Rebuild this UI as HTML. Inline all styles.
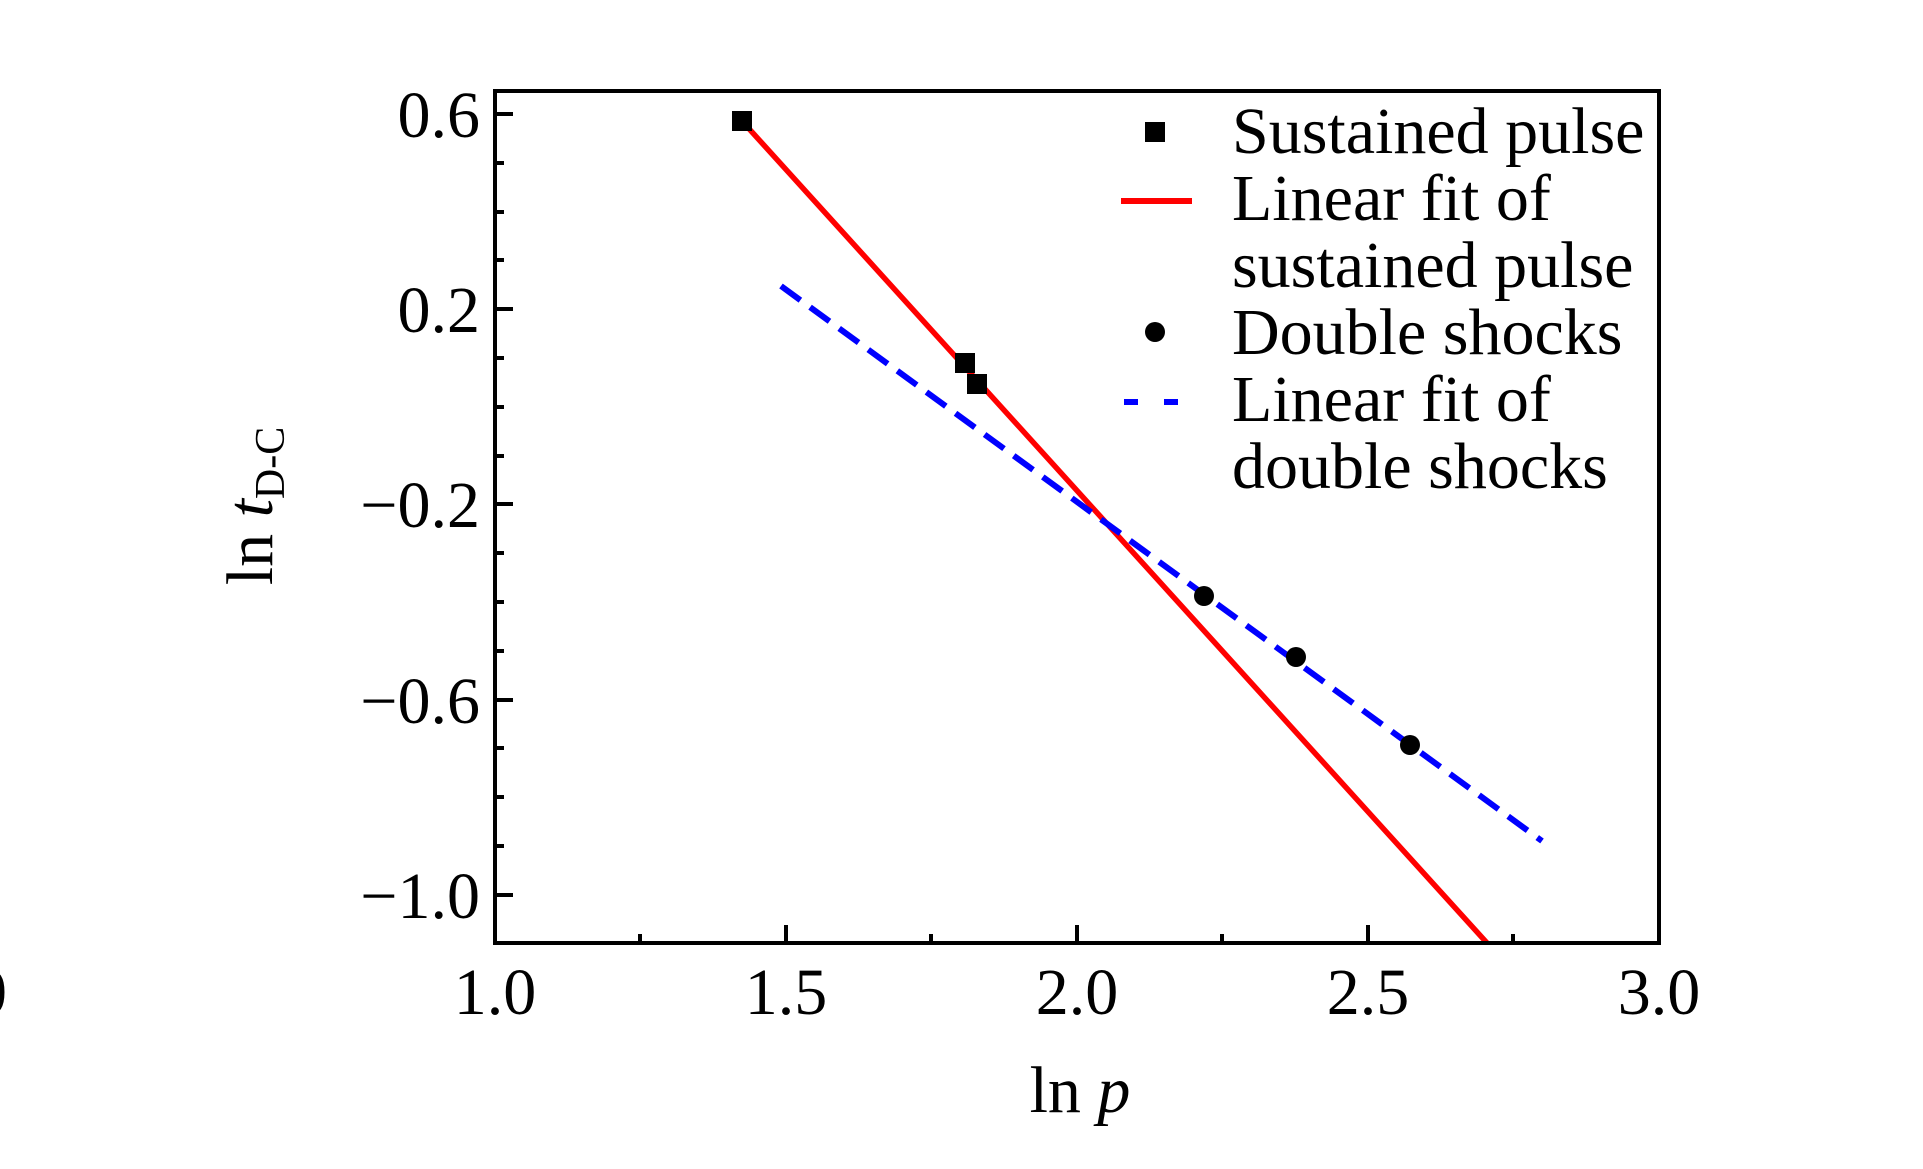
<!DOCTYPE html>
<html><head><meta charset="utf-8"><style>html,body{margin:0;padding:0;background:#fff;}svg{display:block}</style></head>
<body>
<svg width="1923" height="1169" viewBox="0 0 1923 1169" xmlns="http://www.w3.org/2000/svg" font-family="'Liberation Serif', serif">
<defs><clipPath id="c"><rect x="495" y="91" width="1164" height="852"/></clipPath></defs>
<g clip-path="url(#c)">
<line x1="742" y1="121" x2="1487" y2="943" stroke="#ff0000" stroke-width="5.5"/>
<line x1="781" y1="286" x2="1542" y2="841" stroke="#0000ff" stroke-width="6" stroke-dasharray="24 12"/>
</g>
<g fill="#000">
<rect x="732" y="111" width="20" height="20"/>
<rect x="955" y="353" width="20" height="20"/>
<rect x="967" y="374" width="20" height="20"/>
<circle cx="1204" cy="596" r="10"/>
<circle cx="1296" cy="657" r="10"/>
<circle cx="1410" cy="745" r="10"/>
</g>
<rect x="495" y="91" width="1164" height="852" fill="none" stroke="#000" stroke-width="4"/>
<g stroke="#000" stroke-width="4">
<line x1="495" y1="114" x2="513" y2="114"/>
<line x1="495" y1="163" x2="504" y2="163"/>
<line x1="495" y1="212" x2="504" y2="212"/>
<line x1="495" y1="260" x2="504" y2="260"/>
<line x1="495" y1="309" x2="513" y2="309"/>
<line x1="495" y1="358" x2="504" y2="358"/>
<line x1="495" y1="407" x2="504" y2="407"/>
<line x1="495" y1="456" x2="504" y2="456"/>
<line x1="495" y1="504" x2="513" y2="504"/>
<line x1="495" y1="553" x2="504" y2="553"/>
<line x1="495" y1="602" x2="504" y2="602"/>
<line x1="495" y1="651" x2="504" y2="651"/>
<line x1="495" y1="700" x2="513" y2="700"/>
<line x1="495" y1="748" x2="504" y2="748"/>
<line x1="495" y1="797" x2="504" y2="797"/>
<line x1="495" y1="846" x2="504" y2="846"/>
<line x1="495" y1="895" x2="513" y2="895"/>
<line x1="640" y1="943" x2="640" y2="934"/>
<line x1="786" y1="943" x2="786" y2="925"/>
<line x1="931" y1="943" x2="931" y2="934"/>
<line x1="1077" y1="943" x2="1077" y2="925"/>
<line x1="1222" y1="943" x2="1222" y2="934"/>
<line x1="1368" y1="943" x2="1368" y2="925"/>
<line x1="1513" y1="943" x2="1513" y2="934"/>
</g>
<g font-size="66" fill="#000" text-anchor="end">
<text x="480" y="137">0.6</text>
<text x="480" y="332">0.2</text>
<text x="480" y="527">−0.2</text>
<text x="480" y="723">−0.6</text>
<text x="480" y="918">−1.0</text>
</g>
<g font-size="66" fill="#000" text-anchor="middle">
<text x="495" y="1014">1.0</text>
<text x="786" y="1014">1.5</text>
<text x="1077" y="1014">2.0</text>
<text x="1368" y="1014">2.5</text>
<text x="1659" y="1014">3.0</text>
<text x="1080" y="1112">ln <tspan font-style="italic">p</tspan></text>
</g>
<text x="-26" y="1014" font-size="66">0</text>
<text transform="translate(272,506) rotate(-90)" font-size="66" text-anchor="middle">ln <tspan font-style="italic">t</tspan><tspan font-size="42" dy="12">D-C</tspan></text>
<g font-size="66" fill="#000">
<text x="1232" y="153">Sustained pulse</text>
<text x="1232" y="220">Linear fit of</text>
<text x="1232" y="287">sustained pulse</text>
<text x="1232" y="354">Double shocks</text>
<text x="1232" y="421">Linear fit of</text>
<text x="1232" y="488">double shocks</text>
</g>
<rect x="1145" y="122" width="20" height="20" fill="#000"/>
<line x1="1121" y1="201" x2="1192" y2="201" stroke="#ff0000" stroke-width="6"/>
<circle cx="1155" cy="332" r="10" fill="#000"/>
<line x1="1124" y1="402" x2="1188" y2="402" stroke="#0000ff" stroke-width="6" stroke-dasharray="14 26"/>
</svg>
</body></html>
